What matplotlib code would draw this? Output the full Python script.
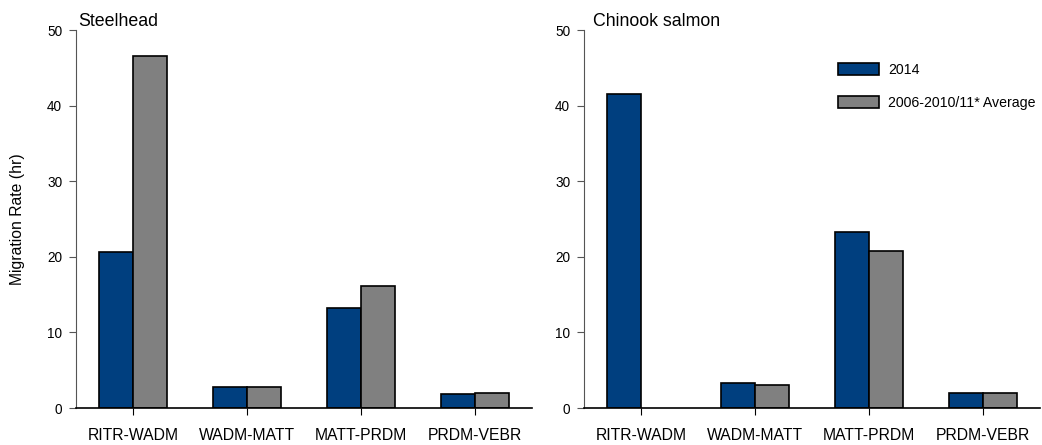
import numpy as np
import matplotlib.pyplot as plt
from matplotlib.patches import Patch

plt.rcParams['font.family'] = ['Liberation Sans Narrow', 'Liberation Sans', 'DejaVu Sans']
plt.rcParams['font.stretch'] = 'condensed'

reaches = ['RITR-WADM', 'WADM-MATT', 'MATT-PRDM', 'PRDM-VEBR']
series = ['2014', '2006-2010/11* Average']

# valeurs (heures)
steelhead_2014 = [20.7, 2.8, 13.2, 1.8]
steelhead_avg = [46.6, 2.8, 16.1, 2.05]
chinook_2014 = [41.6, 3.25, 23.3, 2.0]
chinook_avg = [0.0, 3.1, 20.75, 2.0]

colors = ['#003F7F', '#808080']

fig = plt.figure(figsize=(10.42, 4.45), dpi=100)
ax1 = fig.add_axes([0.073, 0.083, 0.4376, 0.8495])
ax2 = fig.add_axes([0.5605, 0.083, 0.4376, 0.8495])

x = np.arange(len(reaches))
w = 0.3

panels = [(ax1, 'Steelhead', 0.005, steelhead_2014, steelhead_avg),
          (ax2, 'Chinook salmon', 0.02, chinook_2014, chinook_avg)]

for ax, titre, dx, v2014, vavg in panels:
    ax.bar(x - w/2, v2014, w, color=colors[0], edgecolor='black', linewidth=1.2)
    # pas de barre quand la moyenne n'existe pas
    vavg = np.array(vavg)
    m = vavg > 0
    ax.bar(x[m] + w/2, vavg[m], w, color=colors[1], edgecolor='black', linewidth=1.2)
    ax.set_xlim(-0.5, 3.5)
    ax.set_ylim(0, 50)
    ax.set_yticks([0, 10, 20, 30, 40, 50])
    ax.set_xticks(x)
    ax.set_xticklabels(reaches)
    ax.spines['top'].set_visible(False)
    ax.spines['right'].set_visible(False)
    ax.spines['left'].set_color('#555555')
    ax.spines['bottom'].set_linewidth(1.2)
    ax.tick_params(axis='y', direction='out', length=5, pad=5, labelsize=9.8, color='#555555')
    ax.tick_params(axis='x', direction='out', length=5, pad=9, labelsize=11.3)
    ax.text(dx, 1.0, titre, transform=ax.transAxes, fontsize=12.8, ha='left', va='bottom')

ax1.set_ylabel('Migration Rate (hr)', fontsize=11.3, labelpad=16)

handles = [Patch(facecolor=colors[0], edgecolor='black', linewidth=1.2),
           Patch(facecolor=colors[1], edgecolor='black', linewidth=1.2)]
fig.legend(handles, series, loc='upper left', bbox_to_anchor=(838/1042, 1 - 63/445),
           bbox_transform=fig.transFigure, frameon=False, borderpad=0, borderaxespad=0,
           fontsize=10.2, handlelength=2.9, handleheight=0.95, labelspacing=1.35, handletextpad=0.65)

plt.savefig('out.png', dpi=100)
